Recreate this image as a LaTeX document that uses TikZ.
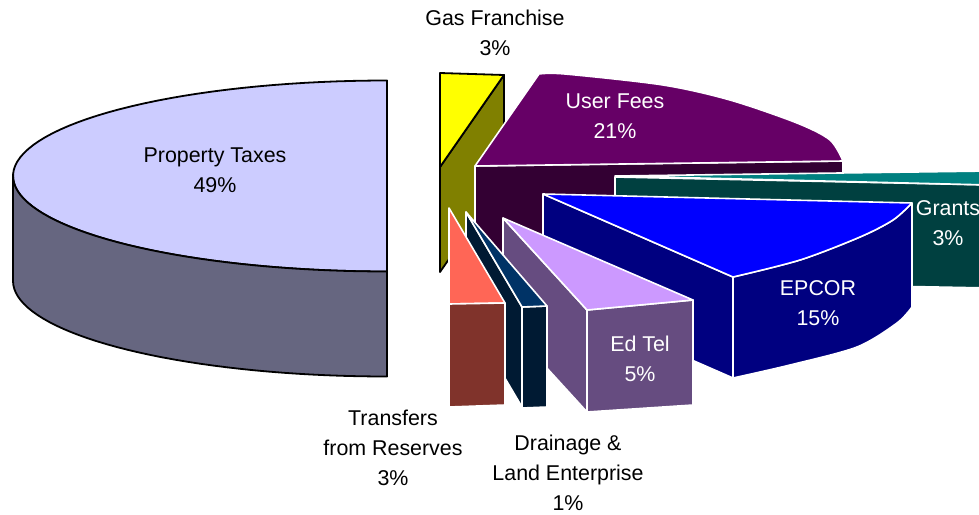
\documentclass[tikz,border=0pt]{standalone}
\usepackage{fontspec}
\setmainfont{Liberation Sans}
\usetikzlibrary{positioning}
\definecolor{ptTop}{RGB}{204,204,255}
\definecolor{ptSide}{RGB}{102,102,128}
\definecolor{gasTop}{RGB}{255,255,0}
\definecolor{gasSide}{RGB}{128,128,0}
\definecolor{feeTop}{RGB}{102,0,102}
\definecolor{feeSide}{RGB}{51,0,51}
\definecolor{grantTop}{RGB}{0,128,128}
\definecolor{grantSide}{RGB}{0,64,64}
\definecolor{epcorTop}{RGB}{0,0,255}
\definecolor{epcorSide}{RGB}{0,0,128}
\definecolor{edtelTop}{RGB}{204,153,255}
\definecolor{edtelSide}{RGB}{102,76,128}
\definecolor{drainTop}{RGB}{0,51,102}
\definecolor{drainSide}{RGB}{0,26,51}
\definecolor{transTop}{RGB}{255,102,86}
\definecolor{transSide}{RGB}{128,51,43}
\tikzset{
  darkedge/.style={draw=black, line width=0.9pt, line join=round},
  lightedge/.style={draw=white, line width=0.8pt, line join=round},
  lbl/.style={align=center, inner sep=0pt, font=\fontsize{10.7}{15}\selectfont},
  lbldark/.style={lbl, text=black},
  lbllight/.style={lbl, text=white},
}

\begin{document}
\begin{tikzpicture}[x=0.5pt, y=-0.5pt]
        \useasboundingbox (0,0) rectangle (979,514);
        \clip (0,0) rectangle (979,514);

        % Property Taxes
        \draw[darkedge, fill=ptTop] plot[domain=90:270, samples=72]
          ({387+374*cos(\x)}, {176-95.5*sin(\x)}) -- cycle;
        \draw[darkedge, fill=ptSide] plot[domain=180:270, samples=40]
          ({387+374*cos(\x)}, {176-95.5*sin(\x)}) -- (387,376.5)
          -- plot[domain=270:180, samples=40] ({387+374*cos(\x)}, {281-95.5*sin(\x)}) -- cycle;

        % Gas Franchise
        \draw[darkedge, fill=gasSide] (440,167) -- (504,75) -- (504,180) -- (440,272) -- cycle;
        \draw[darkedge, fill=gasTop] (440,73) -- (504,75) -- (440,167) -- cycle;

        % User Fees
        \draw[lightedge, fill=feeSide] (475,166) -- (843,161) -- (843,266) -- (475,271) -- cycle;
        \draw[lightedge, fill=feeTop] (475,166)
          -- plot[smooth, tension=0.5] coordinates {(539,74) (565,74) (663,85) (730,100) (797,123) (830,140) (843,161)}
          -- cycle;

        % Grants
        \draw[lightedge, fill=grantSide] (615,177) -- (990,185) -- (990,288) -- (615,281) -- cycle;
        \draw[lightedge, fill=grantTop] (615,176) -- (990,171) -- (990,185) -- cycle;

        % EPCOR
        \draw[lightedge, fill=epcorSide] (543,194) -- (733,277) -- (733,378) -- (543,295) -- cycle;
        \draw[lightedge, fill=epcorSide]
          plot[smooth, tension=0.5] coordinates {(733,277) (800,260) (860,237) (893,220) (912,203)}
          -- plot[smooth, tension=0.5] coordinates {(912,307) (897,323) (857,347) (790,365) (733,378)}
          -- cycle;
        \draw[lightedge, fill=epcorTop] (543,194) -- (912,203)
          -- plot[smooth, tension=0.5] coordinates {(912,203) (893,220) (860,237) (800,260) (733,277)}
          -- cycle;

        % Ed Tel
        \draw[lightedge, fill=edtelSide] (503,218) -- (587,310) -- (587,412) -- (503,320) -- cycle;
        \draw[lightedge, fill=edtelSide] (587,310) -- (693,300) -- (693,405) -- (587,412) -- cycle;
        \draw[lightedge, fill=edtelTop] (503,218) -- (693,300) -- (587,310) -- cycle;

        % Drainage & Land Enterprise
        \draw[lightedge, fill=drainSide] (466,212) -- (522,307) -- (522,407) -- (466,312) -- cycle;
        \draw[lightedge, fill=drainSide] (522,307) -- (547,306) -- (547,407) -- (522,408) -- cycle;
        \draw[lightedge, fill=drainTop] (466,212) -- (547,306) -- (522,307) -- cycle;

        % Transfers from Reserves
        \draw[lightedge, fill=transTop] (449,208) -- (505,303) -- (449,304) -- cycle;
        \draw[lightedge, fill=transSide] (449,304) -- (505,303) -- (505,405) -- (449,407) -- cycle;

        % labels
        \node[lbldark] (property) at (215,170) {Property Taxes\\49\%};
        \node[lbldark] (gas) at (495,33) {Gas Franchise\\3\%};
        \node[lbllight] (fees) at (615,116) {User Fees\\21\%};
        \node[lbllight] (grants) at (948,223) {Grants\\3\%};
        \node[lbllight] (epcor) at (818,303) {EPCOR\\15\%};
        \node[lbllight] (edtel) at (640,359) {Ed Tel\\5\%};
        \node[lbldark] (transfers) at (393,448) {Transfers\\from Reserves\\3\%};
        \node[lbldark] (drainage) at (568,473) {Drainage \&\\Land Enterprise\\1\%};

      \end{tikzpicture}
\end{document}
